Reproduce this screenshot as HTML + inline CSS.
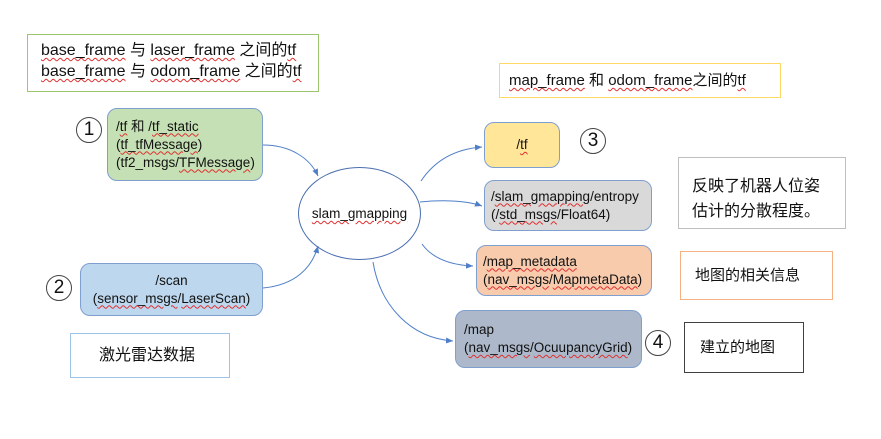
<!DOCTYPE html>
<html><head><meta charset="utf-8"><style>
body{margin:0;width:881px;height:439px;background:#fff;position:relative;overflow:hidden;font-family:"Liberation Sans","Noto Sans CJK SC",sans-serif;color:#111}
.b{position:absolute;box-sizing:border-box}
.r{border-radius:10px;border:1.3px solid #7f9fcf;font-size:13.5px;line-height:18px;padding:0 8px;display:flex;flex-direction:column;justify-content:center}
.n{position:absolute;width:26px;height:26px;border:1px solid #444;border-radius:50%;box-sizing:border-box;font-size:19px;line-height:24px;text-align:center;font-weight:300}
.u{text-decoration:underline wavy #e03030;text-decoration-thickness:1px;text-underline-offset:2px}
</style></head><body>
<div class="b" style="left:27px;top:34px;width:292px;height:58px;border:1.3px solid #9dc56e;font-size:16px;line-height:21px;padding:5px 0 0 13px"><span class="u">base_frame</span> 与 <span class="u">laser_frame</span> 之间的<span class="u">tf</span><br><span class="u">base_frame</span> 与 <span class="u">odom_frame</span> 之间的<span class="u">tf</span></div>
<div class="n" style="left:76px;top:117px">1</div>
<div class="b r" style="left:107px;top:108px;width:156px;height:73px;background:#c5e0b4"><div>/<span class="u">tf</span> 和 /<span class="u">tf_static</span></div><div>(<span class="u">tf_tfMessage</span>)</div><div>(tf2_msgs/<span class="u">TFMessage</span>)</div></div>
<div class="n" style="left:46px;top:275px">2</div>
<div class="b r" style="left:80px;top:263px;width:183px;height:53px;background:#bdd7ee;text-align:center"><div>/scan</div><div>(<span class="u">sensor_msgs</span>/<span class="u">LaserScan</span>)</div></div>
<div class="b" style="left:70px;top:333px;width:160px;height:45px;border:1.3px solid #9dc3e6;font-size:16px;line-height:43px;padding-left:28px">激光雷达数据</div>
<div class="b" style="left:298px;top:167px;width:123px;height:93px;border:1.3px solid #4a6fb0;border-radius:50%;font-size:13.5px;text-align:center;line-height:91px"><span class="u">slam_gmapping</span></div>
<div class="b" style="left:499px;top:63px;width:282px;height:35px;border:1.3px solid #ffd966;font-size:15px;line-height:33px;padding-left:9px"><span class="u">map_frame</span> 和 <span class="u">odom_frame</span>之间的<span class="u">tf</span></div>
<div class="b r" style="left:484px;top:122px;width:76px;height:46px;background:#ffe699;text-align:center"><div>/<span class="u">tf</span></div></div>
<div class="n" style="left:580px;top:128px">3</div>
<div class="b r" style="left:484px;top:180px;width:168px;height:51px;background:#d9d9d9;padding-left:6px"><div>/<span class="u">slam_gmapping</span>/entropy</div><div>(/<span class="u">std_msgs</span>/Float64)</div></div>
<div class="b" style="left:678px;top:157px;width:168px;height:72px;border:1.3px solid #bfbfbf;font-size:16px;line-height:25px;padding:16px 0 0 13px">反映了机器人位姿<br>估计的分散程度。</div>
<div class="b r" style="left:476px;top:245px;width:176px;height:51px;background:#f8cbad;padding-left:6px"><div>/<span class="u">map_metadata</span></div><div>(<span class="u">nav_msgs</span>/<span class="u">MapmetaData</span>)</div></div>
<div class="b" style="left:680px;top:251px;width:153px;height:49px;border:1.3px solid #f4b183;font-size:15px;line-height:47px;padding-left:14px">地图的相关信息</div>
<div class="b r" style="left:455px;top:310px;width:187px;height:58px;background:#adb9ca;padding-left:8px"><div>/map</div><div>(<span class="u">nav_msgs</span>/<span class="u">OcuupancyGrid</span>)</div></div>
<div class="n" style="left:645px;top:330px">4</div>
<div class="b" style="left:684px;top:322px;width:120px;height:51px;border:1.3px solid #404040;font-size:15px;line-height:49px;padding-left:15px">建立的地图</div>
<svg width="881" height="439" style="position:absolute;left:0;top:0" fill="none" stroke="#4f7fc8" stroke-width="1">
<defs><marker id="a" markerWidth="8" markerHeight="8" refX="7" refY="4" orient="auto"><path d="M0,1 L7,4 L0,7z" fill="#4f7fc8" stroke="none"/></marker></defs>
<path d="M263,145 C290,145 310,158 318,176" marker-end="url(#a)"/>
<path d="M263,288 C295,285 312,268 318,246" marker-end="url(#a)"/>
<path d="M421,181 C435,160 455,149 482,147" marker-end="url(#a)"/>
<path d="M420,202 C440,200 465,200 482,206" marker-end="url(#a)"/>
<path d="M422,244 C432,258 450,265 473,266" marker-end="url(#a)"/>
<path d="M373,262 C380,305 410,338 453,341" marker-end="url(#a)"/>
</svg>
</body></html>
